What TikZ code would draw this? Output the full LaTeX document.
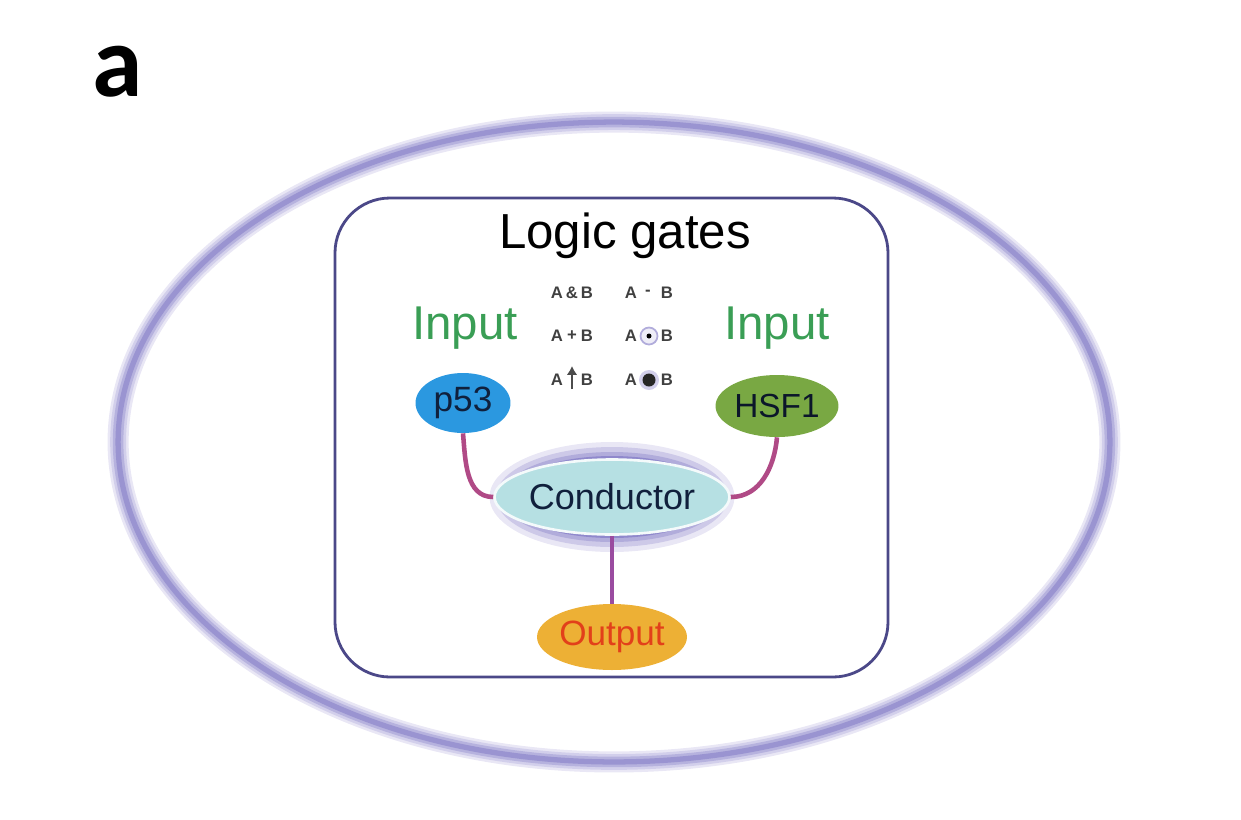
\documentclass[tikz,border=0pt]{standalone}
\usepackage{fontspec}
\setmainfont{Liberation Sans}
\newfontfamily\panelfont{Carlito}
\usetikzlibrary{shapes.geometric,arrows.meta}

\definecolor{ringlav}{HTML}{8F88CC}
\definecolor{boxline}{HTML}{4B4888}
\definecolor{inputgreen}{HTML}{3A9E55}
\definecolor{pblue}{HTML}{2B98E0}
\definecolor{hgreen}{HTML}{79A843}
\definecolor{condteal}{HTML}{B6E0E3}
\definecolor{outorange}{HTML}{EDB035}
\definecolor{outred}{HTML}{E2401A}
\definecolor{linkmag}{HTML}{B04A86}
\definecolor{linkpurple}{HTML}{9A4CA0}
\definecolor{navytext}{HTML}{10203C}

\tikzset{
  blob/.style={ellipse, inner sep=0pt, fill=#1},
  gate/.style={font=\fontsize{9.5}{9.5}\selectfont\bfseries, text=black!75, inner sep=0pt},
  link/.style={line width=2.6pt, linkmag},
}

\begin{document}
\begin{tikzpicture}[x=0.02cm, y=-0.02cm]
  \useasboundingbox (0,0) rectangle (1241,819);
  % panel letter
  \node (panel) at (118,72) {\panelfont\bfseries\fontsize{58}{58}\selectfont a};
  % outer ring (blurred)
  \draw[ringlav!20, line width=12pt] (614,442) ellipse [x radius=9.92cm, y radius=6.4cm];
  \draw[ringlav!40, line width=9pt] (614,442) ellipse [x radius=9.92cm, y radius=6.4cm];
  \draw[ringlav!65, line width=6pt] (614,442) ellipse [x radius=9.92cm, y radius=6.4cm];
  \draw[ringlav!90, line width=3pt] (614,442) ellipse [x radius=9.92cm, y radius=6.4cm];
  % box
  \draw[boxline, line width=1.6pt, rounded corners=1.1cm] (335,198) rectangle (888,677);
  \node (title) at (625,236) {\fontsize{28}{28}\selectfont Logic gates};
  \node[text=inputgreen] (inleft) at (465,328) {\fontsize{27}{27}\selectfont Input};
  \node[text=inputgreen] (inright) at (777,328) {\fontsize{27}{27}\selectfont Input};
  % gate symbols
  \node[gate] (andA) at (557,293) {A};
  \node[gate] (andop) at (572,293) {\&};
  \node[gate] (andB) at (587,293) {B};
  \node[gate] (orA) at (557,336) {A};
  \node[gate] (orop) at (572,336) {+};
  \node[gate] (orB) at (587,336) {B};
  \node[gate] (nandA) at (557,380) {A};
  \node[gate] (nandB) at (587,380) {B};
  \coordinate (nandlow) at (572,389);
  \coordinate (nandtop) at (572,366);
  \draw[black!70, line width=1.4pt, -{Latex[length=5pt,width=6pt]}] (nandlow) -- (nandtop);
  \node[gate] (minA) at (631,293) {A};
  \node[gate] (minop) at (648,293) {-};
  \node[gate] (minB) at (667,293) {B};
  \node[gate] (xnorA) at (631,336) {A};
  \draw[ringlav!70, line width=1pt, fill=ringlav!15] (649,336) circle [radius=0.17cm];
  \fill[black] (649,336) circle [radius=0.05cm];
  \node[gate] (xnorB) at (667,336) {B};
  \node[gate] (dotA) at (631,380) {A};
  \fill[ringlav!40] (649,380) circle [radius=0.2cm];
  \fill[black!85] (649,380) circle [radius=0.13cm];
  \node[gate] (dotB) at (667,380) {B};
  % nodes
  \node[blob=pblue, minimum width=1.9cm, minimum height=1.2cm, text=navytext] (p53) at (463,403) {\fontsize{20}{20}\selectfont p53};
  \node[blob=hgreen, minimum width=2.46cm, minimum height=1.24cm, text=navytext!70!black] (hsf) at (777,406) {\fontsize{19}{19}\selectfont HSF1};
  \fill[ringlav!20] (612,497) ellipse [x radius=2.45cm, y radius=1.1cm];
  \fill[ringlav!45] (612,497) ellipse [x radius=2.32cm, y radius=1.0cm];
  \fill[ringlav!70] (612,497) ellipse [x radius=2.2cm, y radius=0.9cm];
  \fill[ringlav] (612,497) ellipse [x radius=2.1cm, y radius=0.82cm];
  \node[blob=condteal, draw=white!85!condteal, line width=1.5pt, minimum width=4cm, minimum height=1.5cm, text=navytext] (cond) at (612,497) {\fontsize{20.5}{20.5}\selectfont Conductor};
  \node[blob=outorange, minimum width=3cm, minimum height=1.32cm, text=outred] (out) at (612,637) {\fontsize{20}{20}\selectfont Output};
  % connectors
  \draw[link] (p53.south) to[out=-85, in=180] (cond.west);
  \draw[link] (hsf.south) to[out=-95, in=0] (cond.east);
  \draw[link, linkpurple] (cond.south) -- (out.north);
\end{tikzpicture}
\end{document}
